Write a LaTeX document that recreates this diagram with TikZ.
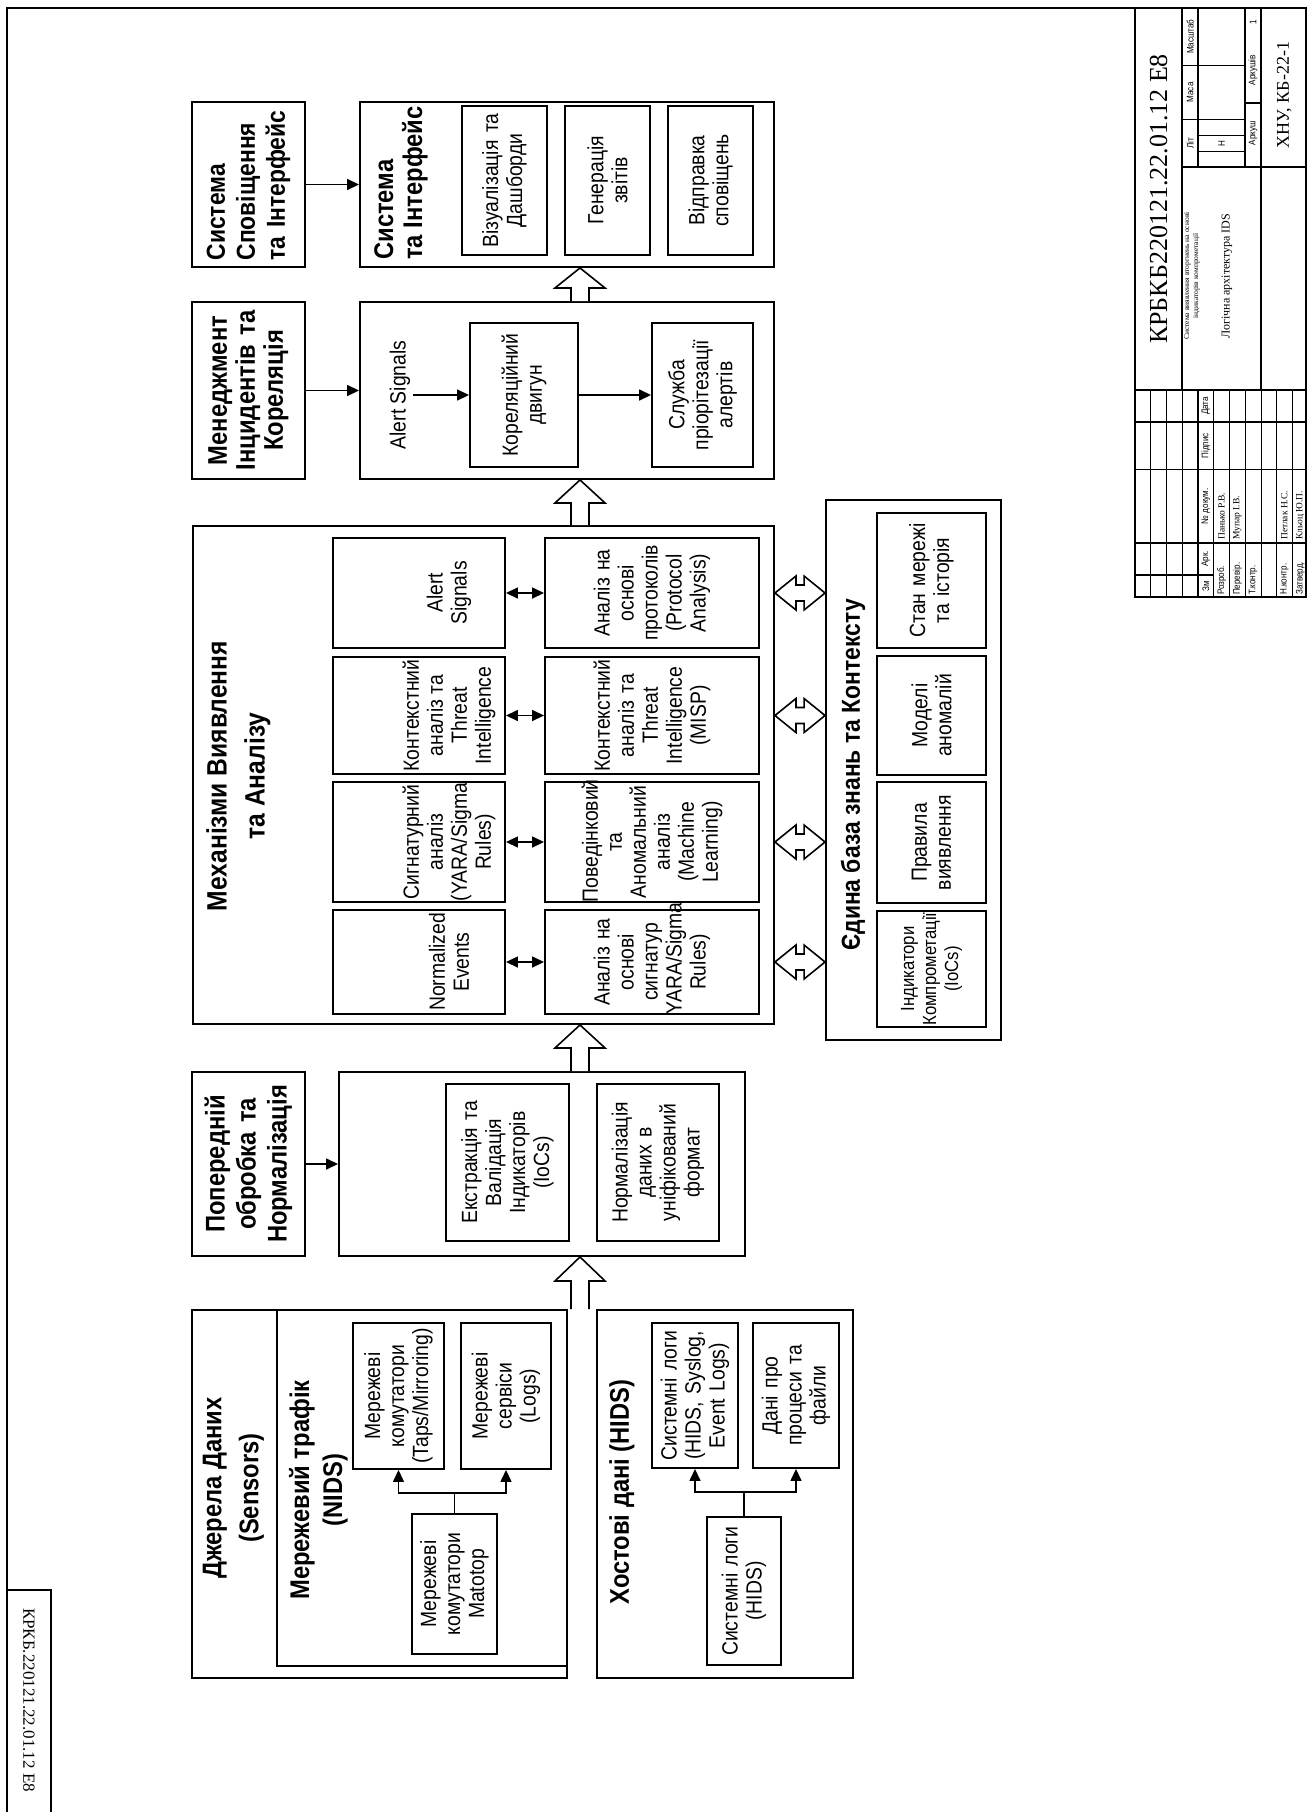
\documentclass[tikz,border=0pt]{standalone}
\usepackage{fontspec}
\setmainfont{Liberation Sans}[FakeStretch=0.88]
\newfontfamily\tms{Liberation Serif}
\newfontfamily\tbs{Liberation Sans}[FakeStretch=0.85]
\usetikzlibrary{arrows.meta,calc}
\hyphenpenalty=10000
\exhyphenpenalty=10000
\tikzset{
 bx/.style n args={4}{draw, line width=1.9pt, rotate=90, align=center, inner sep=0pt,
   minimum width={(#4-#2)*1pt}, minimum height={(#3-#1)*1pt}, text width={(#4-#2)*1pt},
   at={({(#1+#3)/2},{-(#2+#4)/2})}, font=\fontsize{22}{24}\selectfont},
 hd/.style={rotate=90, align=center, inner sep=0pt, font=\bfseries\fontsize{27}{29}\selectfont},
 txt/.style={rotate=90, align=center, inner sep=3pt, font=\fontsize{22}{24}\selectfont},
 arr/.style={-{Triangle[length=12pt,width=11pt]}, line width=1.5pt},
 darr/.style={{Triangle[length=12pt,width=11pt]}-{Triangle[length=12pt,width=11pt]}, line width=1.5pt},
 hollow/.style={draw, fill=white, line width=1.6pt, line join=miter},
 tb/.style={rotate=90, inner sep=0pt, font=\tbs\fontsize{9.5}{10}\selectfont},
 tbn/.style={rotate=90, inner sep=0pt, font=\tms\fontsize{9.5}{10}\selectfont},
 thin/.style={line width=0.6pt},
 thick/.style={line width=1.6pt}
}
\newcommand\bup[4]{\draw[hollow] let \p1=#2, \p2=#3 in
 ({#1pt-9pt},\y1) -- ({#1pt-9pt},{\y2-#4pt}) -- ({#1pt-25pt},{\y2-#4pt}) -- (#1pt,\y2)
 -- ({#1pt+25pt},{\y2-#4pt}) -- ({#1pt+9pt},{\y2-#4pt}) -- ({#1pt+9pt},\y1);}
\newcommand\hdbl[2]{\draw[hollow] let \p1=#1, \p2=#2 in
 (\x1,\y1) -- ({\x1+21pt},{\y1+17pt}) -- ({\x1+21pt},{\y1+8pt}) -- ({\x2-21pt},{\y1+8pt})
 -- ({\x2-21pt},{\y1+17pt}) -- (\x2,\y1) -- ({\x2-21pt},{\y1-17pt}) -- ({\x2-21pt},{\y1-8pt})
 -- ({\x1+21pt},{\y1-8pt}) -- ({\x1+21pt},{\y1-17pt}) -- cycle;}
\begin{document}
\begin{tikzpicture}[x=1pt,y=1pt]
\useasboundingbox (0,0) rectangle (1308,-1812);
% ---------- frame and side stamp
\draw[line width=2.5pt] (7,-1812) -- (7,-8) -- (1306,-8);
\draw[line width=1.8pt] (7,-1590) -- (51,-1590) -- (51,-1812);
\node[rotate=-90, inner sep=0pt, font=\tms\fontsize{17}{17}\selectfont] (stamp) at (29,-1700) {КРКБ.220121.22.01.12 Е8};

% ---------- notification system
\node[bx={192}{102}{305}{267}, font=\bfseries\fontsize{26}{30}\selectfont, text width=152pt, align=left] (sysl) {Система\\Сповіщення\\та Інтерфейс};
\node[bx={360}{102}{774}{267}] (sysm) {};
\node[hd, align=left] (syst) at (401,-183) {Система\\та Інтерфейс};
\node[bx={462}{106}{547}{255}] (vis) {Візуалізація та\\Дашборди};
\node[bx={565}{106}{650}{255}] (gen) {Генерація\\звітів};
\node[bx={668}{106}{753}{255}] (sen) {Відправка\\сповіщень};
\draw[arr] (sysl) -- (sysm);

% ---------- incident management
\node[bx={192}{302}{305}{479}, font=\bfseries\fontsize{27}{28}\selectfont] (incl) {Менеджмент\\Інцидентів та\\Кореляція};
\node[bx={360}{302}{774}{479}] (incm) {};
\node[txt] (alert) at (400,-395) {Alert Signals};
\node[bx={470}{323}{578}{467}] (kor) {Кореляційний\\двигун};
\node[bx={652}{323}{753}{467}] (slu) {Служба\\пріорітезації\\алертів};
\draw[arr] (incl) -- (incm);
\draw[arr] (alert) -- (kor);
\draw[arr] (kor) -- (slu);

% ---------- detection
\node[bx={193}{526}{774}{1024}] (det) {};
\node[hd, font=\bfseries\fontsize{28}{38}\selectfont] (dett) at (238.5,-776) {Механізми Виявлення\\та Аналізу};
\node[bx={333}{538}{505}{648}] (r1a) {};
\node[bx={333}{657}{505}{774}] (r2a) {};
\node[bx={333}{782}{505}{902}] (r3a) {};
\node[bx={333}{910}{505}{1014}] (r4a) {};
\node[txt] (r1at) at (449,-593) {Alert\\Signals};
\node[txt] (r2at) at (449,-715.5) {Контекстний\\аналіз та\\Threat\\Intelligence};
\node[txt] (r3at) at (449,-842) {Сигнатурний\\аналіз\\(YARA/Sigma\\Rules)};
\node[txt] (r4at) at (449,-962) {Normalized\\Events};
\node[bx={545}{538}{759}{648}] (r1b) {Аналіз на\\основі\\протоколів\\(Protocol\\Analysis)};
\node[bx={545}{657}{759}{774}] (r2b) {Контекстний\\аналіз та\\Threat\\Intelligence\\(MISP)};
\node[bx={545}{782}{759}{902}] (r3b) {Поведінковий\\та\\Аномальний\\аналіз\\(Machine\\Learning)};
\node[bx={545}{910}{759}{1014}] (r4b) {Аналіз на\\основі\\сигнатур\\YARA/Sigma\\Rules)};
\draw[darr] (r1a) -- (r1b);
\draw[darr] (r2a) -- (r2b);
\draw[darr] (r3a) -- (r3b);
\draw[darr] (r4a) -- (r4b);

% ---------- knowledge base
\node[bx={826}{500}{1001}{1040}] (kb) {};
\node[hd, font=\bfseries\fontsize{26}{28}\selectfont] (kbt) at (853,-775) {Єдина база знань та Контексту};
\node[bx={877}{513}{986}{648}] (kb1) {Стан мережі\\та історія};
\node[bx={877}{656}{986}{775}] (kb2) {Моделі\\аномалій};
\node[bx={877}{782}{986}{903}] (kb3) {Правила\\виявлення};
\node[bx={877}{911}{986}{1027}, font=\fontsize{19}{22}\selectfont] (kb4) {Індикатори\\Компрометації\\(IoCs)};
\hdbl{(det.south |- r1b.center)}{(kb.north |- r1b.center)}
\hdbl{(det.south |- r2b.center)}{(kb.north |- r2b.center)}
\hdbl{(det.south |- r3b.center)}{(kb.north |- r3b.center)}
\hdbl{(det.south |- r4b.center)}{(kb.north |- r4b.center)}

% ---------- preprocessing
\node[bx={192}{1072}{305}{1256}, font=\bfseries\fontsize{27}{31}\selectfont] (prel) {Попередній\\обробка та\\Нормалізація};
\node[bx={339}{1072}{745}{1256}] (prem) {};
\node[bx={446}{1084}{569}{1241}] (ext) {Екстракція та\\Валідація\\Індикаторів\\(IoCs)};
\node[bx={597}{1084}{719}{1241}] (nrm) {Нормалізація\\даних в\\уніфікований\\формат};
\draw[arr] (prel) -- (prem);

% ---------- sources
\node[bx={192}{1310}{567}{1678}] (src) {};
\node[hd, font=\bfseries\fontsize{27}{37}\selectfont] (srct) at (233.5,-1488) {Джерела Даних\\(Sensors)};
\node[bx={277}{1310}{567}{1666}] (nids) {};
\node[hd, font=\bfseries\fontsize{27}{33}\selectfont] (nidst) at (318.5,-1490) {Мережевий трафік\\(NIDS)};
\node[bx={353}{1323}{444}{1469}] (taps) {Мережеві\\комутатори\\(Taps/Mirroring)};
\node[bx={461}{1323}{551}{1469}] (logs) {Мережеві\\сервіси\\(Logs)};
\node[bx={412}{1514}{497}{1654}] (mat) {Мережеві\\комутатори\\Matotop};
\draw[arr] (mat.east) -- ++(0,20) -| (taps.west);
\draw[arr] (mat.east) -- ++(0,20) -| (logs.west);

\node[bx={597}{1310}{853}{1678}] (host) {};
\node[hd] (hostt) at (622,-1492) {Хостові дані (HIDS)};
\node[bx={652}{1323}{738}{1468}] (sysg) {Системні логи\\(HIDS, Syslog,\\Event Logs)};
\node[bx={753}{1323}{839}{1468}] (proc) {Дані про\\процеси та\\файли};
\node[bx={707}{1517}{781}{1665}] (shl) {Системні логи\\(HIDS)};
\draw[arr] (shl.east) -- ++(0,24) -| (sysg.west);
\draw[arr] (shl.east) -- ++(0,24) -| (proc.west);

% ---------- block arrows
\bup{580}{(src.east)}{(prem.west)}{24}
\bup{580}{(prem.east)}{(det.west)}{23}
\bup{580}{(det.east)}{(incm.west)}{23}
\bup{580}{(incm.east)}{(sysm.west)}{20}

% ---------- title block
\foreach \r in {1150.7,1166.5,1182.2,1229.4,1245.1,1260.8,1276.6,1292.3}
  \draw[thin] (\r,-390) -- (\r,-597);
\draw[thick] (1197.9,-390) -- (1197.9,-597);
\draw[thick] (1213.6,-390) -- (1213.6,-597);
\draw[thick] (1135,-574.7) -- (1213.6,-574.7);
\foreach \c in {542.9,469.6,421.9}
  \draw[thick] (1135,-\c) -- (1306,-\c);
\draw[line width=2pt] (1135,-390) -- (1306,-390);
\draw[line width=2pt] (1182.2,-8) -- (1182.2,-390);
\draw[line width=2pt] (1260.8,-8) -- (1260.8,-390);
\draw[line width=2pt] (1182.2,-167.1) -- (1306,-167.1);
\draw[thick] (1197.9,-8) -- (1197.9,-167.1);
\draw[thick] (1245.1,-8) -- (1245.1,-167.1);
\draw[thick] (1182.2,-119.4) -- (1245.1,-119.4);
\draw[thick] (1182.2,-65.3) -- (1245.1,-65.3);
\draw[thin] (1197.9,-151.2) -- (1245.1,-151.2);
\draw[thin] (1197.9,-135.3) -- (1245.1,-135.3);
\draw[thick] (1245.1,-103) -- (1260.8,-103);
\draw[line width=2pt] (1135,-8) rectangle (1306,-597);

\node[tb] (tzm) at (1205.8,-585.9) {Зм};
\node[tb] (tark) at (1205.8,-558.8) {Арк.};
\node[tb] (tdoc) at (1205.8,-506.3) {№ докум.};
\node[tb] (tsig) at (1205.8,-445.8) {Підпис};
\node[tb] (tdat) at (1205.8,-406) {Дата};
\node[tb, anchor=west] (trz) at (1221.5,-595) {Розроб.};
\node[tbn, anchor=west] (tpz) at (1221.5,-540) {Панько Р.В.};
\node[tb, anchor=west] (tpv) at (1237.3,-595) {Перевір.};
\node[tbn, anchor=west] (tmp) at (1237.3,-540) {Мупар І.В.};
\node[tb, anchor=west] (ttk) at (1253,-595) {Т.контр.};
\node[tb, anchor=west] (tnk) at (1284.4,-595) {Н.контр.};
\node[tbn, anchor=west] (tpl) at (1284.4,-540) {Петлак Н.С.};
\node[tb, anchor=west] (tzt) at (1300.2,-595) {Затверд.};
\node[tbn, anchor=west] (tkl) at (1300.2,-540) {Кльоц Ю.П.};

\node[rotate=90, inner sep=0pt, font=\tms\fontsize{26}{26}\selectfont] (tcode) at (1158.6,-199) {КРБКБ220121.22.01.12 Е8};
\node[rotate=90, inner sep=0pt, align=center, font=\tms\fontsize{7.5}{9}\selectfont] (tname) at (1192,-276) {Система виявлення вторгнень на основі\\індикаторів компрометації};
\node[rotate=90, inner sep=0pt, font=\tms\fontsize{12}{13}\selectfont] (tsub) at (1227,-276) {Логічна архітектура IDS};
\node[tb] (tlit) at (1190.1,-143.2) {Літ};
\node[tb] (tmas) at (1190.1,-92.4) {Маса};
\node[tb] (tmsh) at (1190.1,-36.7) {Масштаб};
\node[tb] (tn) at (1221.5,-143.2) {Н};
\node[tb] (tar) at (1253,-133) {Аркуш};
\node[tb] (tars) at (1253,-70) {Аркушів};
\node[tb] (tone) at (1253,-22) {1};
\node[rotate=90, inner sep=0pt, font=\tms\fontsize{18}{18}\selectfont] (torg) at (1284.4,-95) {ХНУ, КБ-22-1};
\end{tikzpicture}
\end{document}
